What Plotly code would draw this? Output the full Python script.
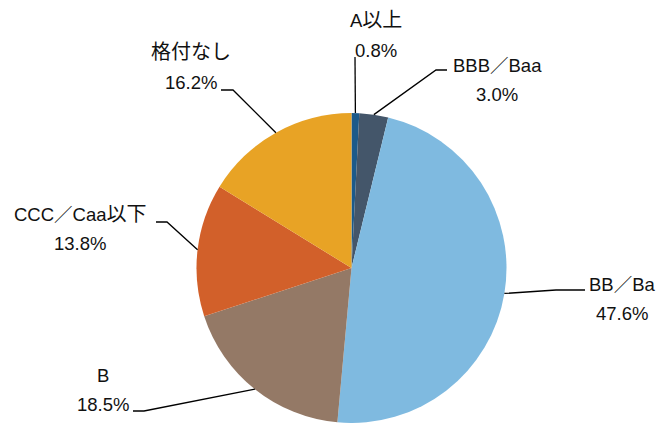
import math
import re
import plotly.graph_objects as go

# ---- data ----
categories = ["A以上", "BBB／Baa", "BB／Ba", "B", "CCC／Caa以下", "格付なし"]
values = [0.8, 3.0, 47.6, 18.5, 13.8, 16.2]
pct_labels = ["0.8%", "3.0%", "47.6%", "18.5%", "13.8%", "16.2%"]
colors = ["#1c5a8a", "#44566a", "#7fbae0", "#947966", "#d2602a", "#e8a325"]

# ---- layout constants (pixels) ----
W, H = 666, 423
PIE_LEFT, PIE_RIGHT, PIE_TOP = 196, 507, 113
# label line centres: (x, y line1, y line2)
label_pos = [
    (376, 20, 51),
    (497, 65, 94),
    (622, 284, 313),
    (103, 375, 404),
    (80, 214, 243),
    (191, 52, 82),
]
# leader elbows: (elbow point, end point)
leader_pts = [
    ((355, 57), (355, 57)),
    ((436, 70), (447, 70)),
    ((556, 290), (585, 290)),
    ((144, 411), (133, 411)),
    ((167, 222), (156, 222)),
    ((233, 90), (221, 90)),
]

def px(x, y):
    return x / W, 1 - y / H

def cjk_big(s):
    return re.sub(r"([\u3040-\u30ff\u4e00-\u9fff]+)",
                  r'<span style="font-size:20px">\1</span>', s)

dom_x = [PIE_LEFT / W, PIE_RIGHT / W]
dom_y = [0, 1 - PIE_TOP / H]
r = min(PIE_RIGHT - PIE_LEFT, H - PIE_TOP) / 2
cx = (PIE_LEFT + PIE_RIGHT) / 2
cy = H - r

fig = go.Figure(go.Pie(
    labels=categories, values=values, sort=False, direction="clockwise",
    rotation=0, marker=dict(colors=colors, line=dict(width=0)),
    textinfo="none", hoverinfo="label+percent", showlegend=False,
    domain=dict(x=dom_x, y=dom_y),
))

FONT = "Liberation Sans, Arial, Noto Sans CJK JP, sans-serif"
total = sum(values)
cum = 0
shapes = []
annotations = []
for i, v in enumerate(values):
    mid = (cum + v / 2) / total * 2 * math.pi
    cum += v
    sx = cx + r * math.sin(mid)
    sy = cy - r * math.cos(mid)
    (ex, ey), (fx, fy) = leader_pts[i]
    p0 = px(sx, sy); p1 = px(ex, ey); p2 = px(fx, fy)
    shapes.append(dict(type="path", xref="paper", yref="paper",
                       path=f"M {p0[0]},{p0[1]} L {p1[0]},{p1[1]} L {p2[0]},{p2[1]}",
                       line=dict(color="black", width=1.3)))
    lx, ly1, ly2 = label_pos[i]
    for txt, yy in ((cjk_big(categories[i]), ly1), (pct_labels[i], ly2)):
        a = px(lx, yy)
        annotations.append(dict(x=a[0], y=a[1], xref="paper", yref="paper",
                                text=txt, showarrow=False, xanchor="center",
                                yanchor="middle",
                                font=dict(family=FONT, size=18.5, color="#111")))

fig.update_layout(width=W, height=H, autosize=False,
                  margin=dict(l=0, r=0, t=0, b=0),
                  paper_bgcolor="white", plot_bgcolor="white",
                  shapes=shapes, annotations=annotations)
fig.write_html("out.html", config={"displayModeBar": False},
               post_script="document.body.style.margin='0';document.body.style.overflow='hidden';")
